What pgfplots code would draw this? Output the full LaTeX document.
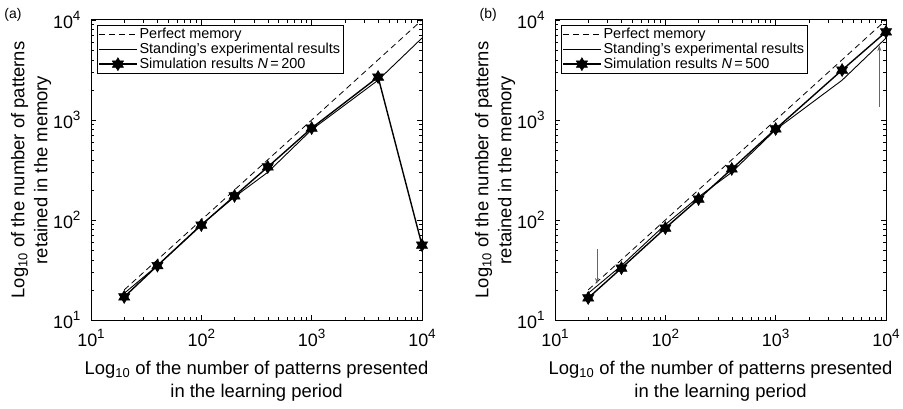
\documentclass[border=0pt]{standalone}
\usepackage{fontspec}
\setmainfont{Liberation Sans}
\usepackage{pgfplots}
\pgfplotsset{compat=1.18}
\usetikzlibrary{arrows.meta}

\pgfdeclareplotmark{hexagram}{%
  \pgfpathmoveto{\pgfqpointpolar{90}{\pgfplotmarksize}}%
  \pgfpathlineto{\pgfqpointpolar{210}{\pgfplotmarksize}}%
  \pgfpathlineto{\pgfqpointpolar{330}{\pgfplotmarksize}}%
  \pgfpathclose
  \pgfpathmoveto{\pgfqpointpolar{270}{\pgfplotmarksize}}%
  \pgfpathlineto{\pgfqpointpolar{30}{\pgfplotmarksize}}%
  \pgfpathlineto{\pgfqpointpolar{150}{\pgfplotmarksize}}%
  \pgfpathclose
  \pgfusepathqfillstroke}

\newcommand{\tl}[1]{{\fontsize{18}{18}\selectfont 10\raisebox{0.45em}{\fontsize{13.5}{13.5}\selectfont #1}}}
\newcommand{\lgd}{\fontsize{14.5}{14.5}\selectfont}

\pgfplotsset{
  every axis/.append style={
    scale only axis, width=331bp, height=300bp,
    xmin=10, xmax=10000, ymin=10, ymax=10000,
    xtick={10,100,1000,10000},
    xticklabels={\tl{1},\tl{2},\tl{3},\tl{4}},
    ytick={10,100,1000,10000},
    yticklabels={\tl{1},\tl{2},\tl{3},\tl{4}},
    tick align=inside, major tick length=5bp, minor tick length=3bp,
    axis line style={line width=1pt},
    every tick/.style={black, line width=0.5pt},
    xticklabel style={yshift=-6bp},
    yticklabel style={xshift=-7bp},
    label style={font=\fontsize{18.5}{23}\selectfont, align=center},
    xlabel style={at={(axis description cs:0.5,-0.203)}, anchor=center},
    ylabel style={at={(axis description cs:-0.181,0.5)}, anchor=center},
    legend style={at={(axis description cs:0.018,0.983)}, anchor=north west,
      draw=black, line width=0.5pt,
      inner sep=1bp, row sep=-1bp, cells={anchor=west}},
    legend image code/.code={\draw[mark repeat=2,mark phase=2] plot coordinates {(0bp,0bp) (19bp,0bp) (38bp,0bp)};},
    clip=false,
  },
  perf/.style={black, line width=0.8pt, dash pattern=on 6bp off 4bp},
  stand/.style={black, line width=0.9pt},
  sim/.style={black, line width=1.4pt, mark=hexagram, mark size=6.5bp, mark options={solid, line width=0.5pt}},
}

\begin{document}
\begin{tikzpicture}
\useasboundingbox (-91bp,-89bp) rectangle (812bp,320bp);
\begin{loglogaxis}[at={(0,0)}, anchor=south west,
    xlabel={Log\textsubscript{10} of the number of patterns presented\\in the learning period},
    ylabel={Log\textsubscript{10} of the number of patterns\\retained in the memory}]
\addplot[perf] coordinates {(20,20) (10000,10000)};
\addlegendentry{\lgd Perfect memory}
\addplot[stand] coordinates {(20,18.5) (40,35) (100,90) (200,170) (400,300) (1000,800) (4000,2500) (10000,6600)};
\addlegendentry{\lgd Standing's experimental results}
\addplot[sim] coordinates {(20,17) (40,35) (100,89) (200,174) (400,339) (1000,830) (4000,2690) (10000,56)};
\addlegendentry{\lgd Simulation results \textit{N}\,=\,200}
\node[font=\fontsize{14}{14}\selectfont] at (axis description cs:-0.236,1.017) {(a)};
\end{loglogaxis}
\begin{loglogaxis}[at={(464bp,0)}, anchor=south west,
    xlabel={Log\textsubscript{10} of the number of patterns presented\\in the learning period},
    ylabel={Log\textsubscript{10} of the number of patterns\\retained in the memory}]
\addplot[perf] coordinates {(20,20) (10000,10000)};
\addlegendentry{\lgd Perfect memory}
\addplot[stand] coordinates {(20,18.5) (40,35) (100,90) (200,170) (400,300) (1000,800) (4000,2500) (10000,6600)};
\addlegendentry{\lgd Standing's experimental results}
\addplot[sim] coordinates {(20,16.6) (40,33) (100,83) (200,162) (400,324) (1000,813) (4000,3160) (10000,7600)};
\addlegendentry{\lgd Simulation results \textit{N}\,=\,500}
\addplot[gray!80!black, line width=0.7pt, -{Stealth[length=6bp,width=4bp]}, forget plot] coordinates {(24,51) (24,23)};
\addplot[gray!80!black, line width=0.7pt, -{Stealth[length=6bp,width=4bp]}, forget plot] coordinates {(8700,1350) (8700,5600)};
\node[font=\fontsize{14}{14}\selectfont] at (axis description cs:-0.202,1.017) {(b)};
\end{loglogaxis}
\end{tikzpicture}
\end{document}
